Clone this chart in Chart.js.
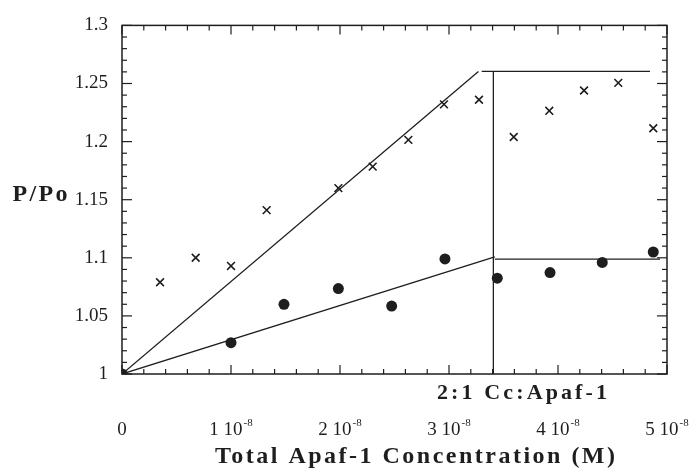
<!DOCTYPE html>
<html>
<head>
<meta charset="utf-8">
<script src="https://cdn.jsdelivr.net/npm/chart.js@4.4.1/dist/chart.umd.min.js"></script>
<style>
html,body{margin:0;padding:0;background:#fff}
#wrap{width:693px;height:472px}
</style>
</head>
<body>
<div id="wrap"><canvas id="c" width="693" height="472"></canvas></div>
<script>
// measured points (x in M)
const crossX=[0, 0.349e-8, 0.676e-8, 1.0e-8, 1.327e-8, 1.985e-8, 2.30e-8, 2.627e-8, 2.954e-8, 3.275e-8, 3.594e-8, 3.92e-8, 4.239e-8, 4.553e-8, 4.874e-8];
const crossY=[1, 1.079, 1.100, 1.093, 1.141, 1.160, 1.1785, 1.2015, 1.232, 1.236, 1.204, 1.2265, 1.244, 1.2505, 1.2115];
const dotX=[0, 1.0e-8, 1.486e-8, 1.985e-8, 2.474e-8, 2.963e-8, 3.443e-8, 3.927e-8, 4.406e-8, 4.874e-8];
const dotY=[1, 1.027, 1.060, 1.0735, 1.0585, 1.099, 1.0825, 1.0873, 1.096, 1.105];

// fitted lines
const upperFitX=[0, 3.27e-8], upperFitY=[1, 1.2604];
const upperFlatX=[3.30e-8, 4.844e-8], upperFlatY=[1.2605, 1.2605];
const lowerFitX=[0, 3.42e-8], lowerFitY=[1, 1.1008];
const lowerFlatX=[3.42e-8, 4.936e-8], lowerFlatY=[1.0988, 1.0988];
const markerX=[3.407e-8, 3.407e-8], markerY=[1.2605, 1];

const xTicks=[0, 1e-8, 2e-8, 3e-8, 4e-8, 5e-8];
const xTickBase=['0','1 10','2 10','3 10','4 10','5 10'];
const xTickExp=['','-8','-8','-8','-8','-8'];
const yTicks=[1, 1.05, 1.1, 1.15, 1.2, 1.25, 1.3];
const yTickLabels=['1','1.05','1.1','1.15','1.2','1.25','1.3'];
const xMinorStep=0.2e-8, yMinorStep=0.01;

const ink='#1e1e1e';
const serif="'Liberation Serif', 'DejaVu Serif', serif";
const pts=(xs,ys)=>xs.map((v,i)=>({x:v,y:ys[i]}));
const lineSet=(xs,ys)=>({data:pts(xs,ys),showLine:true,pointRadius:0,borderColor:ink,borderWidth:1.3,order:2});

function spacedText(ctx,txt,cx,cy,font,targetW){
  ctx.font=font;
  ctx.letterSpacing='0px';
  const w=ctx.measureText(txt).width;
  const sp=Math.max(0,(targetW-w)/(txt.length-1));
  ctx.letterSpacing=sp+'px';
  ctx.textAlign='left';
  ctx.textBaseline='middle';
  ctx.fillText(txt,cx-targetW/2,cy);
  ctx.letterSpacing='0px';
}

const frame={
  id:'frame',
  afterDraw(chart){
    const {ctx,chartArea:a,scales:{x,y}}=chart;
    ctx.save();
    ctx.strokeStyle=ink;
    ctx.fillStyle=ink;
    ctx.lineWidth=1.5;
    ctx.strokeRect(a.left,a.top,a.right-a.left,a.bottom-a.top);
    ctx.lineWidth=1.2;
    const seg=(x1,y1,x2,y2)=>{ctx.beginPath();ctx.moveTo(x1,y1);ctx.lineTo(x2,y2);ctx.stroke();};
    for(let i=0;i<=25;i++){
      const px=x.getPixelForValue(i*xMinorStep), len=i%5===0?9:5;
      seg(px,a.bottom,px,a.bottom-len);
      seg(px,a.top,px,a.top+len);
    }
    for(let i=0;i<=30;i++){
      const py=y.getPixelForValue(1+i*yMinorStep), len=i%5===0?10:5;
      seg(a.left,py,a.left+len,py);
      seg(a.right,py,a.right-len,py);
    }
    // x tick labels
    ctx.textBaseline='alphabetic';
    xTicks.forEach((v,i)=>{
      const px=x.getPixelForValue(v);
      ctx.font='19px '+serif;
      const bw=ctx.measureText(xTickBase[i]).width;
      ctx.font='11px '+serif;
      const ew=xTickExp[i]?ctx.measureText(xTickExp[i]).width+1:0;
      const left=px-(bw+ew)/2;
      ctx.font='19px '+serif;
      ctx.textAlign='left';
      ctx.fillText(xTickBase[i],left,435);
      if(xTickExp[i]){ctx.font='11px '+serif;ctx.fillText(xTickExp[i],left+bw+1,426);}
    });
    spacedText(ctx,'2:1 Cc:Apaf-1',522,393,'bold 22px '+serif,170);
    spacedText(ctx,'Total Apaf-1 Concentration (M)',415,457,'bold 24px '+serif,400);
    spacedText(ctx,'P/Po',40,195,'bold 24px '+serif,55);
    ctx.restore();
  }
};

new Chart(document.getElementById('c'),{
  type:'scatter',
  data:{datasets:[
    lineSet(upperFitX,upperFitY),
    lineSet(upperFlatX,upperFlatY),
    lineSet(lowerFitX,lowerFitY),
    lineSet(lowerFlatX,lowerFlatY),
    lineSet(markerX,markerY),
    {data:pts(crossX,crossY),pointStyle:'crossRot',pointRadius:5.5,borderColor:ink,borderWidth:1.6,backgroundColor:ink,order:1},
    {data:pts(dotX,dotY),pointStyle:'circle',pointRadius:5.5,borderColor:ink,backgroundColor:ink,borderWidth:0,order:0}
  ]},
  options:{
    responsive:false,
    devicePixelRatio:1,
    animation:false,
    layout:{autoPadding:false,padding:{top:20,right:26,left:0,bottom:0}},
    plugins:{legend:{display:false},tooltip:{enabled:false}},
    scales:{
      x:{
        type:'linear',min:0,max:5e-8,
        afterBuildTicks:s=>{s.ticks=xTicks.map(v=>({value:v}));},
        afterFit:s=>{s.height=98;},
        grid:{display:false},border:{display:false},
        ticks:{display:false}
      },
      y:{
        type:'linear',min:1,max:1.3,
        afterBuildTicks:s=>{s.ticks=yTicks.map(v=>({value:v}));},
        afterFit:s=>{s.width=122;},
        grid:{display:false,drawTicks:false},border:{display:false},
        ticks:{padding:14,color:ink,font:{family:serif,size:19},
          callback:(v,i)=>yTickLabels[i]}
      }
    }
  },
  plugins:[frame]
});
</script>
</body>
</html>
